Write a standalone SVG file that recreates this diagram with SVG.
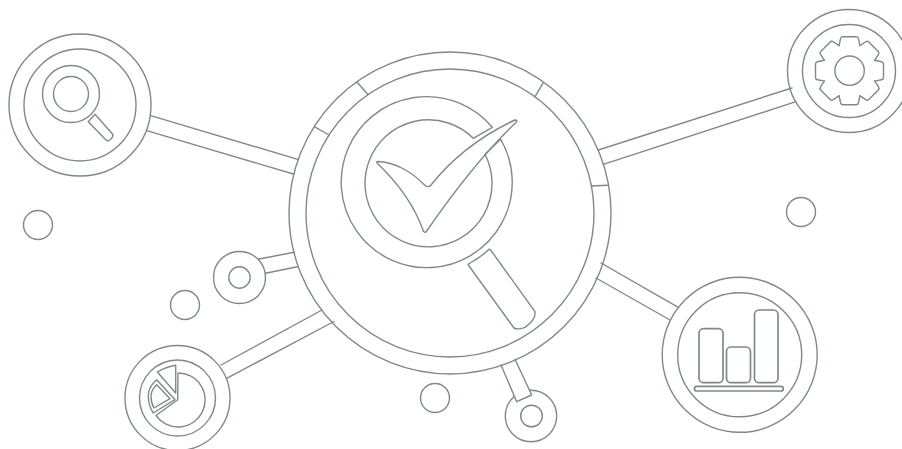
<svg xmlns="http://www.w3.org/2000/svg" width="902" height="449" viewBox="0 0 902 449">
<style>
.s{fill:none;stroke:#7f898d;stroke-width:1.4;stroke-linejoin:round;stroke-linecap:round}
.b{fill:#fff;stroke:#7f898d;stroke-width:1.4;stroke-linejoin:round;stroke-linecap:round}
.t{fill:none;stroke:#7f898d;stroke-width:1.7;stroke-linejoin:round}
</style>
<defs>
<path id="tooth" d="M-10.4,-25.1L-9,-32Q-8.700,-34 -6.700,-34H6.700Q8.700,-34 9,-32L10.4,-25.1"/>
</defs>
<rect width="902" height="449" fill="#fff"/>
<g id="node-small-bottom">
<circle class="s" cx="531" cy="416" r="25.700"/>
<circle class="s" cx="531.500" cy="416" r="10.800"/>
</g>
<g id="connectors">
<path class="s" d="M150.700,115.700L297.700,159.300M146.700,130.700L293.300,174"/>
<path class="s" d="M598.300,150L792,88M603.300,164.300L796,101.700"/>
<path class="s" d="M601,263L678.300,307.300M596,278L670,320"/>
<path class="s" d="M259,259L294.300,252.300M265.700,273.300L297.300,266.700"/>
<path class="s" d="M221,365L322,310M226.700,378.300L334,321.500"/>
<path class="b" d="M501,365L516.700,401.700L531.700,395L515,359.300"/>
</g>
<g id="node-center">
<circle class="s" cx="450" cy="213" r="161"/>
<circle class="s" cx="450" cy="213" r="144"/>
<path class="s" d="M356.700,81.700L367.700,94.300M314.300,126.700L329,135M543.300,82.700L535,96.700M591,186L607.700,185.300"/>
<path class="s" d="M492.300,127.300A85.500,85.500 0 1 0 500.700,139.300L485,154.300A63.500,63.500 0 1 1 473.300,138.300Z"/>
<path class="s" d="M377.500,161.500C395,162 412,172 424,184.500Q428,188.500 431,185C455,155 485,134 515,120Q518,120 516,122.500C487,150 455,190 426,232Q424,233 423,230C414,205 397,182 377,163Q376.500,161.500 377.500,161.500Z"/>
<path class="s" d="M468.300,264Q480,258 489,249.300Q490,249 491,250.500L535,311.700Q536,320 525,327.300Q518,330 514,328L468.300,265Q468,264.500 468.300,264Z"/>
</g>
<g id="node-search">
<circle class="s" cx="80" cy="105" r="71"/>
<circle class="s" cx="80" cy="105" r="56"/>
<circle class="s" cx="71" cy="94" r="28.500"/>
<circle class="s" cx="71" cy="94" r="17.500"/>
<path class="s" d="M88.300,121.700L95,114.300L112.700,134.300Q113.500,136.500 111,139L108.500,140.800Q107,141 106,140Z"/>
</g>
<g id="node-gear">
<circle class="s" cx="849" cy="71" r="61.500"/>
<circle class="s" cx="849" cy="71" r="46.500"/>
<circle class="s" cx="849.600" cy="70.700" r="14.700"/>
<g class="s" transform="translate(849.500 70.700)">
<use href="#tooth"/>
<use href="#tooth" transform="rotate(45)"/>
<use href="#tooth" transform="rotate(90)"/>
<use href="#tooth" transform="rotate(135)"/>
<use href="#tooth" transform="rotate(180)"/>
<use href="#tooth" transform="rotate(225)"/>
<use href="#tooth" transform="rotate(270)"/>
<use href="#tooth" transform="rotate(315)"/>
</g>
</g>
<g id="node-chart">
<circle class="s" cx="739.700" cy="354.800" r="77.500"/>
<circle class="s" cx="739.700" cy="354.800" r="62"/>
<rect class="t" x="699" y="328.700" width="24" height="54" rx="4.500"/>
<rect class="t" x="726.500" y="347" width="24" height="35.700" rx="4.500"/>
<rect class="t" x="754.500" y="310" width="23.500" height="72.700" rx="4.500"/>
<rect class="t" x="694.500" y="386.300" width="88.800" height="4.700" rx="2.300"/>
</g>
<g id="node-pie">
<circle class="s" cx="177.500" cy="398" r="52.500"/>
<circle class="s" cx="177.500" cy="398" r="38"/>
<path class="s" d="M178,373A27,27 0 1 1 156,415.500L177.700,399.700Z"/>
<path class="s" d="M157.300,372Q166,367 175.700,365.300V393Z"/>
<path class="s" d="M175,399.700L156.700,379.700Q148,387 148.300,396.300Q148.500,406 153.300,413Z"/>
<path class="s" d="M170,398.700L156.700,384.700Q151,390 151,396.300Q151,403 154,408Z"/>
</g>
<g id="node-small-left">
<circle class="s" cx="239.500" cy="277.500" r="26"/>
<circle class="s" cx="239.500" cy="277.500" r="10.700"/>
</g>
<g id="dot-1"><circle class="s" cx="38" cy="225" r="14.500"/></g>
<g id="dot-2"><circle class="s" cx="185" cy="305" r="14.500"/></g>
<g id="dot-3"><circle class="s" cx="435" cy="398" r="14.500"/></g>
<g id="dot-4"><circle class="s" cx="801" cy="212" r="14.500"/></g>
</svg>
